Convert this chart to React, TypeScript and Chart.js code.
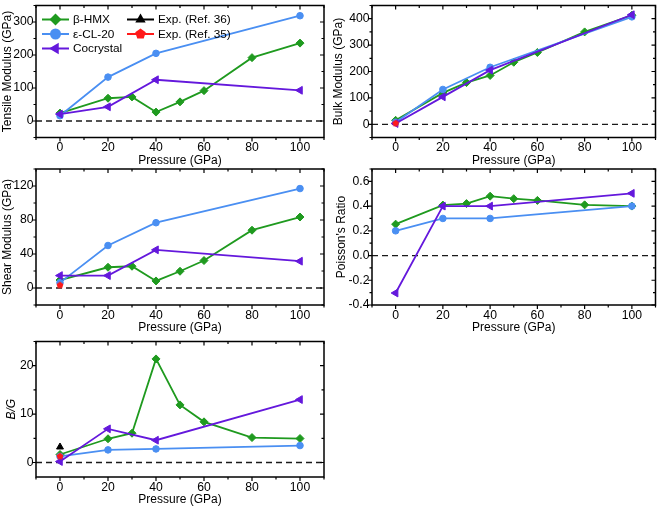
import React, { useEffect, useRef } from 'react';
import { Chart, registerables } from 'chart.js';

Chart.register(...registerables);

// ---------- data ----------
const pressureHMX = [0, 20, 30, 40, 50, 60, 80, 100];
const pressureCL = [0, 20, 40, 100];
const pressureCo = [0, 20, 40, 100];
const pressureExp = [0];

const tensileHMX = [24, 69, 73, 27, 58, 92, 192, 236];
const tensileCL = [16, 133, 205, 319];
const tensileCo = [21, 43, 125, 93];

const bulkHMX = [15, 119, 158, 185, 235, 272, 350, 413];
const bulkCL = [8, 132, 216, 407];
const bulkCo = [3, 104, 205, 415];
const bulkExp35 = [6];

const shearHMX = [9.4, 24.4, 25.6, 8.3, 19.7, 32.3, 68, 83.5];
const shearCL = [6.3, 50, 76.8, 117];
const shearCo = [14.6, 14.6, 44.9, 31.5];
const shearExp35 = [4];

const poissonHMX = [0.254, 0.408, 0.42, 0.48, 0.46, 0.446, 0.41, 0.4];
const poissonCL = [0.2, 0.3, 0.3, 0.4];
const poissonCo = [-0.303, 0.4, 0.4, 0.503];

const bgHMX = [1.65, 4.9, 6.05, 21.4, 11.9, 8.4, 5.15, 4.95];
const bgCL = [1.25, 2.6, 2.8, 3.5];
const bgCo = [0.2, 6.95, 4.6, 13];
const bgExp36 = [3.2];
const bgExp35 = [1.4];

const xTickLabels = [0, 20, 40, 60, 80, 100];
const legendLabels = ['β-HMX', 'ε-CL-20', 'Cocrystal', 'Exp. (Ref. 36)', 'Exp. (Ref. 35)'];

// ---------- styles ----------
const GREEN = '#1f9a1f';
const BLUE = '#4a8ff2';
const PURPLE = '#6418dc';
const BLACK = '#000000';
const RED = '#ff1a1a';
const FONT = '"Liberation Sans", Arial, Helvetica, sans-serif';

Chart.defaults.font.family = FONT;
Chart.defaults.color = '#000';

function pentagonPath(ctx: CanvasRenderingContext2D, x: number, y: number, r: number) {
  ctx.beginPath();
  for (let i = 0; i < 5; i++) {
    const a = -Math.PI / 2 + (i * 2 * Math.PI) / 5;
    const px = x + r * Math.cos(a);
    const py = y + r * Math.sin(a);
    if (i === 0) ctx.moveTo(px, py);
    else ctx.lineTo(px, py);
  }
  ctx.closePath();
}

function makePentagon(r: number, color: string) {
  const c = document.createElement('canvas');
  const s = Math.ceil(2 * r + 2);
  c.width = s;
  c.height = s;
  const ctx = c.getContext('2d')!;
  ctx.fillStyle = color;
  pentagonPath(ctx, s / 2, s / 2 + 0.5, r);
  ctx.fill();
  return c;
}

function drawMarker(ctx: CanvasRenderingContext2D, style: string, x: number, y: number, r: number, rot: number, color: string) {
  ctx.save();
  ctx.fillStyle = color;
  ctx.strokeStyle = color;
  ctx.beginPath();
  if (style === 'rectRot') {
    ctx.moveTo(x - r, y);
    ctx.lineTo(x, y - r);
    ctx.lineTo(x + r, y);
    ctx.lineTo(x, y + r);
    ctx.closePath();
  } else if (style === 'circle') {
    ctx.arc(x, y, r, 0, Math.PI * 2);
  } else if (style === 'triangle') {
    let a = (rot * Math.PI) / 180;
    ctx.moveTo(x + Math.sin(a) * r, y - Math.cos(a) * r);
    a += (2 * Math.PI) / 3;
    ctx.lineTo(x + Math.sin(a) * r, y - Math.cos(a) * r);
    a += (2 * Math.PI) / 3;
    ctx.lineTo(x + Math.sin(a) * r, y - Math.cos(a) * r);
    ctx.closePath();
  } else if (style === 'pentagon') {
    pentagonPath(ctx, x, y, r);
  }
  ctx.fill();
  ctx.restore();
}

function isMult(v: number, step: number) {
  const q = v / step;
  return Math.abs(q - Math.round(q)) < 1e-6;
}

const framePlugin = {
  id: 'frame',
  beforeDatasetsDraw(chart: any) {
    const { ctx, chartArea } = chart;
    const y0 = chart.scales.y.getPixelForValue(0);
    ctx.save();
    ctx.strokeStyle = '#1a1a1a';
    ctx.lineWidth = 1.3;
    ctx.setLineDash([6, 4]);
    ctx.beginPath();
    ctx.moveTo(chartArea.left, y0);
    ctx.lineTo(chartArea.right, y0);
    ctx.stroke();
    ctx.restore();
  },
  afterDraw(chart: any, _args: any, opts: any) {
    const { ctx, chartArea } = chart;
    const { left, right, top, bottom } = chartArea;
    const xs = chart.scales.x;
    const ys = chart.scales.y;
    ctx.save();
    ctx.strokeStyle = '#000';
    ctx.lineWidth = 1.2;
    ctx.beginPath();
    const xStart = Math.ceil(xs.min / opts.xMinor - 1e-9) * opts.xMinor;
    for (let v = xStart; v <= xs.max + 1e-9; v += opts.xMinor) {
      const px = xs.getPixelForValue(v);
      const len = isMult(v, opts.xMajor) ? 4 : 2.5;
      ctx.moveTo(px, bottom);
      ctx.lineTo(px, bottom + len);
      ctx.moveTo(px, top);
      ctx.lineTo(px, top + len);
    }
    const yStart = Math.ceil(ys.min / opts.yMinor - 1e-9) * opts.yMinor;
    for (let v = yStart; v <= ys.max + 1e-9; v += opts.yMinor) {
      const py = ys.getPixelForValue(v);
      const len = isMult(v, opts.yMajor) ? 4 : 2.5;
      ctx.moveTo(left, py);
      ctx.lineTo(left - len, py);
      ctx.moveTo(right, py);
      ctx.lineTo(right - len, py);
    }
    ctx.stroke();
    ctx.lineWidth = 1.5;
    ctx.strokeRect(left, top, right - left, bottom - top);
    ctx.restore();
  },
};

function makeLegendPlugin() {
  return {
    id: 'customLegend',
    afterDatasetsDraw(chart: any) {
      const { ctx, chartArea } = chart;
      const items = [
        { label: legendLabels[0], color: GREEN, style: 'rectRot', r: 6, rot: 0, col: 0, row: 0 },
        { label: legendLabels[1], color: BLUE, style: 'circle', r: 5.5, rot: 0, col: 0, row: 1 },
        { label: legendLabels[2], color: PURPLE, style: 'triangle', r: 6.5, rot: -90, col: 0, row: 2 },
        { label: legendLabels[3], color: BLACK, style: 'triangle', r: 6, rot: 0, col: 1, row: 0 },
        { label: legendLabels[4], color: RED, style: 'pentagon', r: 5.5, rot: 0, col: 1, row: 1 },
      ];
      ctx.save();
      ctx.font = `11.8px ${FONT}`;
      ctx.textBaseline = 'middle';
      ctx.textAlign = 'left';
      for (const it of items) {
        const x0 = chartArea.left + (it.col === 0 ? 6 : 91);
        const y = chartArea.top + 14 + it.row * 14.5;
        ctx.strokeStyle = it.color;
        ctx.lineWidth = 2;
        ctx.beginPath();
        ctx.moveTo(x0, y);
        ctx.lineTo(x0 + 27, y);
        ctx.stroke();
        drawMarker(ctx, it.style, x0 + 13.5, y, it.r, it.rot, it.color);
        ctx.fillStyle = '#000';
        ctx.fillText(it.label, x0 + 31, y + 0.5);
      }
      ctx.restore();
    },
  };
}

function pts(xs: number[], ys: number[]) {
  return xs.map((x, i) => ({ x, y: ys[i] }));
}

function buildDatasets(
  pent: HTMLCanvasElement,
  hmx: number[],
  cl: number[],
  co: number[],
  e36?: number[],
  e35?: number[]
) {
  const ds: any[] = [];
  if (e36) {
    ds.push({
      label: legendLabels[3],
      data: pts(pressureExp, e36),
      showLine: false,
      pointStyle: 'triangle',
      pointRadius: 4,
      backgroundColor: BLACK,
      borderColor: BLACK,
      pointBorderWidth: 1,
    });
  }
  if (e35) {
    ds.push({
      label: legendLabels[4],
      data: pts(pressureExp, e35),
      showLine: false,
      pointStyle: pent,
      pointRadius: 4,
      backgroundColor: RED,
      borderColor: RED,
    });
  }
  ds.push({
    label: legendLabels[2],
    data: pts(pressureCo, co),
    borderColor: PURPLE,
    backgroundColor: PURPLE,
    borderWidth: 1.8,
    pointStyle: 'triangle',
    pointRotation: -90,
    pointRadius: 4.5,
    pointBorderWidth: 1,
  });
  ds.push({
    label: legendLabels[1],
    data: pts(pressureCL, cl),
    borderColor: BLUE,
    backgroundColor: BLUE,
    borderWidth: 1.8,
    pointStyle: 'circle',
    pointRadius: 3.3,
    pointBorderWidth: 1,
  });
  ds.push({
    label: legendLabels[0],
    data: pts(pressureHMX, hmx),
    borderColor: GREEN,
    backgroundColor: GREEN,
    borderWidth: 1.8,
    pointStyle: 'rectRot',
    pointRadius: 4,
    pointBorderWidth: 1,
  });
  return ds;
}

interface Panel {
  L: number;
  R: number;
  T: number;
  B: number;
  yW: number;
  yMin: number;
  yMax: number;
  yMajor: number;
  yMinor: number;
  yTitle: string;
  italic?: boolean;
  fmt: (v: number) => string;
  datasets: any[];
  legend?: boolean;
}

const W = 661;
const H = 509;
const XH = 30;

export default function App() {
  const refs = useRef<(HTMLCanvasElement | null)[]>([]);

  useEffect(() => {
    document.body.style.margin = '0';
    const pentSmall = makePentagon(3.6, RED);

    const panels: Panel[] = [
      {
        L: 36, R: 324, T: 2, B: 137.5, yW: 35.7,
        yMin: -50, yMax: 350, yMajor: 100, yMinor: 50,
        yTitle: 'Tensile Modulus (GPa)', fmt: (v) => String(v),
        datasets: buildDatasets(pentSmall, tensileHMX, tensileCL, tensileCo),
        legend: true,
      },
      {
        L: 372, R: 657, T: 2, B: 137.5, yW: 40.2,
        yMin: -50, yMax: 450, yMajor: 100, yMinor: 50,
        yTitle: 'Bulk Modulus (GPa)', fmt: (v) => String(v),
        datasets: buildDatasets(pentSmall, bulkHMX, bulkCL, bulkCo, undefined, bulkExp35),
      },
      {
        L: 36, R: 324, T: 169, B: 305, yW: 35.7,
        yMin: -20, yMax: 140, yMajor: 40, yMinor: 20,
        yTitle: 'Shear Modulus (GPa)', fmt: (v) => String(v),
        datasets: buildDatasets(pentSmall, shearHMX, shearCL, shearCo, undefined, shearExp35),
      },
      {
        L: 372, R: 657, T: 169, B: 305, yW: 37.9,
        yMin: -0.4, yMax: 0.7, yMajor: 0.2, yMinor: 0.1,
        yTitle: "Poisson's Ratio", fmt: (v) => v.toFixed(1),
        datasets: buildDatasets(pentSmall, poissonHMX, poissonCL, poissonCo),
      },
      {
        L: 36, R: 324, T: 341.5, B: 477, yW: 31.5,
        yMin: -3, yMax: 25, yMajor: 10, yMinor: 5,
        yTitle: 'B/G', italic: true, fmt: (v) => String(v),
        datasets: buildDatasets(pentSmall, bgHMX, bgCL, bgCo, bgExp36, bgExp35),
      },
    ];

    const charts: Chart[] = panels.map((p, i) => {
      const canvas = refs.current[i]!;
      const plugins: any[] = [framePlugin];
      if (p.legend) plugins.push(makeLegendPlugin());
      return new Chart(canvas, {
        type: 'line',
        data: { datasets: p.datasets },
        plugins,
        options: {
          responsive: false,
          animation: false,
          devicePixelRatio: 1,
          events: [],
          layout: {
            padding: {
              left: p.L - p.yW,
              right: W - p.R,
              top: p.T,
              bottom: H - p.B - XH,
            },
          },
          plugins: {
            legend: { display: false },
            tooltip: { enabled: false },
            frame: { xMinor: 10, xMajor: 20, yMinor: p.yMinor, yMajor: p.yMajor },
          } as any,
          scales: {
            x: {
              type: 'linear',
              min: -10,
              max: 110,
              grid: { display: false, drawTicks: false },
              border: { display: false },
              ticks: {
                stepSize: 10,
                autoSkip: false,
                maxRotation: 0,
                minRotation: 0,
                padding: 3,
                color: '#000',
                font: { size: 12.2, family: FONT },
                callback: (v: any) => (xTickLabels.some((t) => Math.abs(t - Number(v)) < 1e-6) ? String(v) : ''),
              },
              title: {
                display: true,
                text: 'Pressure (GPa)',
                color: '#000',
                font: { size: 12, family: FONT },
                padding: 0,
              },
              afterFit: (s: any) => {
                s.height = XH;
                s.paddingLeft = 0;
                s.paddingRight = 0;
              },
            },
            y: {
              type: 'linear',
              min: p.yMin,
              max: p.yMax,
              grid: { display: false, drawTicks: false },
              border: { display: false },
              ticks: {
                stepSize: p.yMinor,
                autoSkip: false,
                padding: 2.5,
                color: '#000',
                font: { size: 12.2, family: FONT },
                callback: (v: any) => (isMult(Number(v), p.yMajor) ? p.fmt(Number(v)) : ''),
              },
              title: {
                display: true,
                text: p.yTitle,
                color: '#000',
                font: { size: 12, family: FONT, style: p.italic ? 'italic' : 'normal' },
                padding: 0,
              },
              afterFit: (s: any) => {
                s.width = p.yW;
                s.paddingTop = 0;
                s.paddingBottom = 0;
              },
            },
          },
        } as any,
      });
    });

    return () => {
      charts.forEach((c) => c.destroy());
    };
  }, []);

  return (
    <div style={{ position: 'fixed', left: 0, top: 0, width: W, height: H, background: '#fff' }}>
      {[0, 1, 2, 3, 4].map((i) => (
        <canvas
          key={i}
          ref={(el) => {
            refs.current[i] = el;
          }}
          width={W}
          height={H}
          style={{ position: 'absolute', left: 0, top: 0 }}
        />
      ))}
    </div>
  );
}
